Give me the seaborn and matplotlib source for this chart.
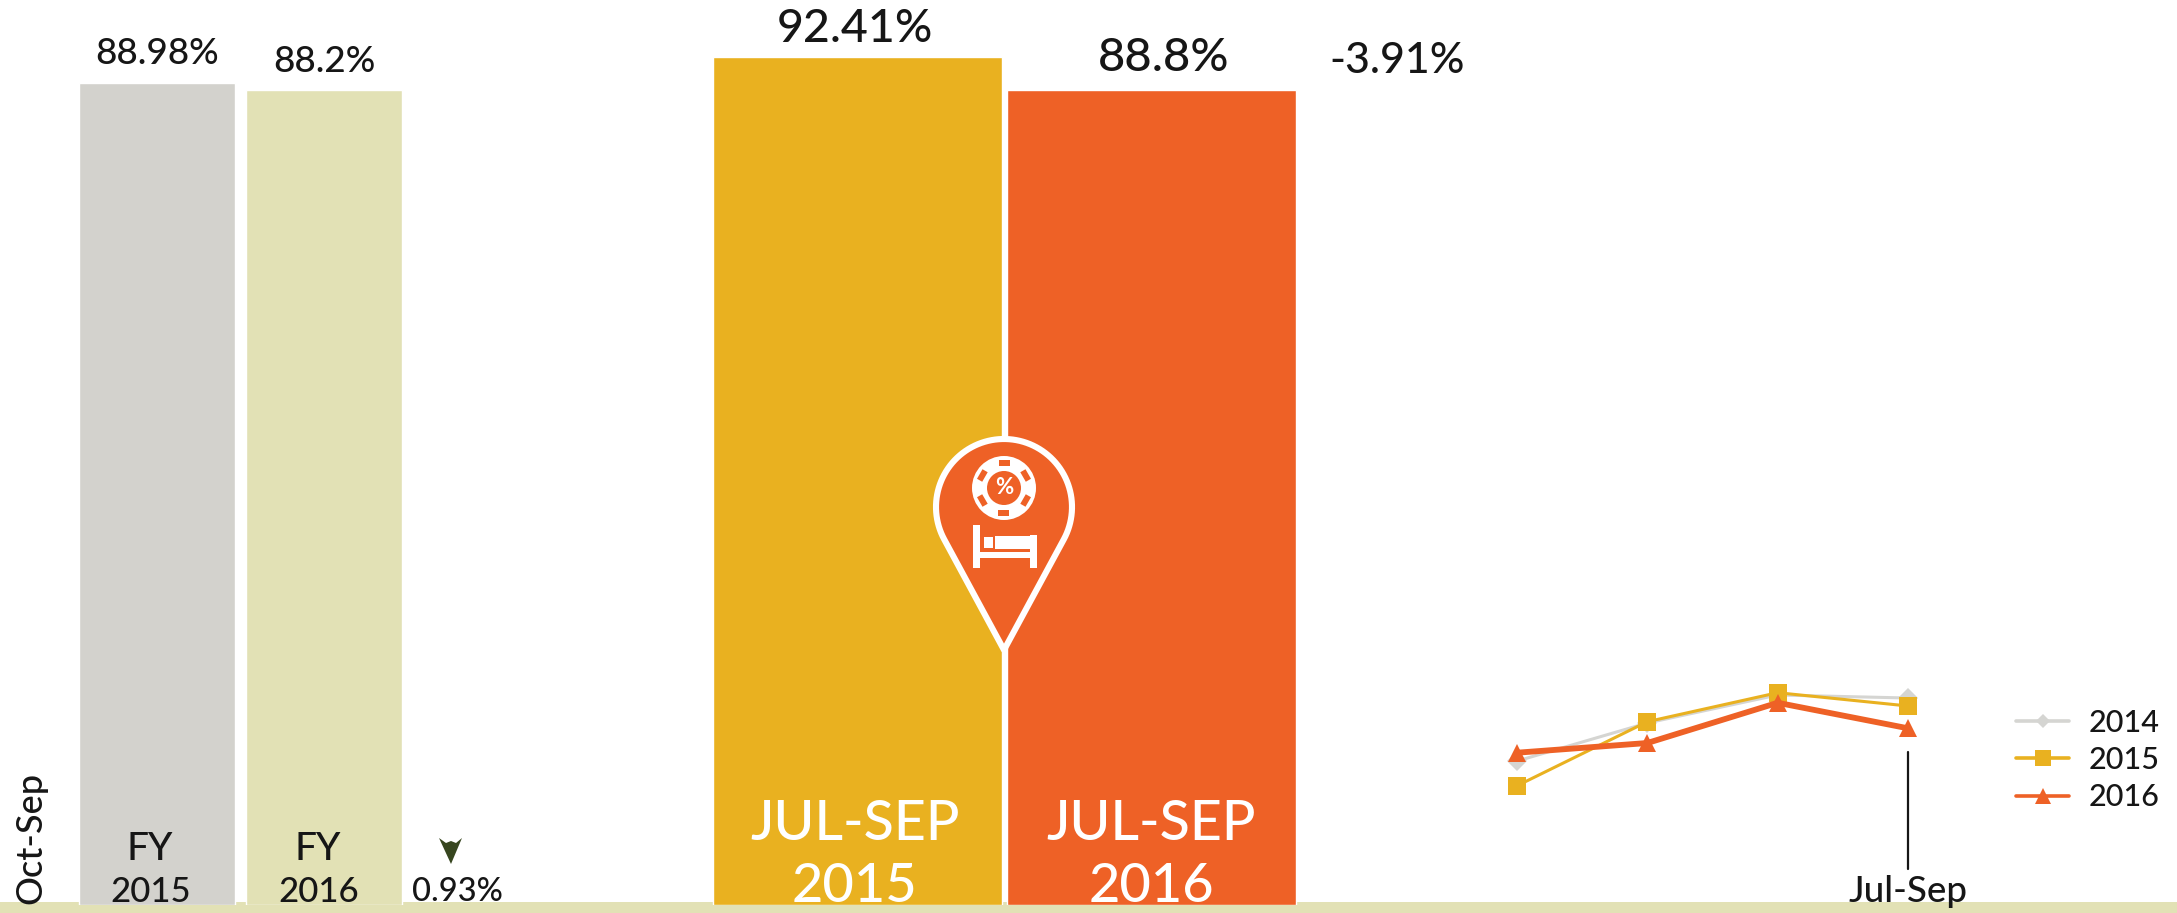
import numpy as np
import pandas as pd
import matplotlib
matplotlib.use("Agg")
import matplotlib.pyplot as plt
from matplotlib.patches import Circle, Polygon, Rectangle
import seaborn as sns

fy_labels = ["FY 2015", "FY 2016"]
fy_values = [88.98, 88.2]
fy_text = ["88.98%", "88.2%"]
q_labels = ["JUL-SEP 2015", "JUL-SEP 2016"]
q_values = [92.41, 88.8]
q_text = ["92.41%", "88.8%"]
quarters = ["Oct-Dec", "Jan-Mar", "Apr-Jun", "Jul-Sep"]
rate_2014 = [83.5, 89.66, 94.19, 93.7]
rate_2015 = [79.5, 89.87, 94.56, 92.41]
rate_2016 = [84.85, 86.42, 92.93, 88.8]

GRAY, PALE, GOLD, ORANGE = "#D3D2CD", "#E2E1B5", "#E9B120", "#EE6126"
INK = "#161616"
W, H = 2177, 913

sns.set_theme(style="white")
plt.rcParams["font.family"] = ["Lato", "DejaVu Sans"]
plt.rcParams["font.weight"] = "medium"
fig = plt.figure(figsize=(W / 100, H / 100), dpi=100, facecolor="white")


def axes_px(x0, y0, x1, y1, z):
    a = fig.add_axes([x0 / W, 1 - y1 / H, (x1 - x0) / W, (y1 - y0) / H], zorder=z)
    a.patch.set_alpha(0)
    return a


# background strip
bg = axes_px(0, 0, W, H, 0)
bg.set_xlim(0, W); bg.set_ylim(H, 0); bg.axis("off")
bg.add_patch(Rectangle((0, 902), W, 11, color=PALE, lw=0))

# FY bars
axf = axes_px(73.5, 27.2, 407.5, 905, 1)
sns.barplot(x=fy_labels, y=fy_values, hue=fy_labels, palette=[GRAY, PALE], saturation=1,
            width=0.94, legend=False, ax=axf)
axf.set_ylim(0, 95); axf.set_xlim(-0.5, 1.5); axf.axis("off")
for i, (v, t) in enumerate(zip(fy_values, fy_text)):
    axf.annotate(t, (i, v), xytext=(0, 9), textcoords="offset points", ha="center",
                 va="bottom", fontsize=26.5, color=INK, annotation_clip=False)

# quarter bars
axq = axes_px(710.5, 33.4, 1298.5, 905, 1)
sns.barplot(x=q_labels, y=q_values, hue=q_labels, palette=[GOLD, ORANGE], saturation=1,
            width=0.982, legend=False, ax=axq)
axq.set_ylim(0, 95); axq.set_xlim(-0.5, 1.5); axq.axis("off")
for i, (v, t, dx) in enumerate(zip(q_values, q_text, [-2, 9])):
    axq.annotate(t, (i, v), xytext=(dx, 5 + 3 * i), textcoords="offset points", ha="center",
                 va="bottom", fontsize=33.5 if i == 0 else 34, color=INK, annotation_clip=False)

# line chart
axl = axes_px(1517, 683.8, 1908, 795.05, 1)
df = pd.DataFrame({"quarter": quarters * 3,
                   "rate": rate_2014 + rate_2015 + rate_2016,
                   "year": ["2014"] * 4 + ["2015"] * 4 + ["2016"] * 4})
sns.lineplot(data=df, x="quarter", y="rate", hue="year", style="year", sort=False,
             palette=["#D5D5D2", GOLD, ORANGE], markers=["D", "s", "^"], dashes=False,
             size="year", sizes=[2.2, 2.2, 4.2], markersize=13, markeredgewidth=0,
             ax=axl, clip_on=False)
axl.lines[0].set_markersize(10)
axl.set_ylim(78, 96); axl.set_xlim(0, 3); axl.axis("off")
handles, labels = axl.get_legend_handles_labels()
axl.legend().remove()
leg = fig.legend(handles, labels, loc="upper left", frameon=False, fontsize=22,
                 bbox_to_anchor=(2016 / W, 1 - 709 / H), handlelength=1.75, handletextpad=0.62,
                 labelspacing=0.3, borderpad=0, borderaxespad=0, labelcolor=INK)
for h, ms in zip(leg.legend_handles, [7, 11, 11]):
    h.set_markersize(ms)
    h.set_linewidth(2.6)

# annotations and icon in pixel coordinates
ov = axes_px(0, 0, W, H, 3)
ov.set_xlim(0, W); ov.set_ylim(H, 0); ov.axis("off")


def label(x, y, s, size, color=INK, **kw):
    ov.text(x, y, s, fontsize=size, color=color, ha="center", va="center", **kw)


label(150, 849, "FY", 28)
label(151, 892, "2015", 25)
label(318, 849, "FY", 28)
label(319, 892, "2016", 25)
label(457, 892, "0.93%", 23.5)
label(31, 838, "Oct-Sep", 26, rotation=90)
label(855, 825, "JUL-SEP", 40, color="white")
label(855, 887, "2015", 39, color="white")
label(1151, 825, "JUL-SEP", 40, color="white")
label(1151, 887, "2016", 39, color="white")
label(1397, 61, "-3.91%", 31)
label(1908, 892, "Jul-Sep", 26.5)
ov.plot([1908, 1908], [752, 869], color=INK, lw=1.6)
ov.add_patch(Polygon([(439, 838), (446, 843), (451, 841), (456, 843), (462, 838), (451, 864)],
                     closed=True, color="#37461F", lw=0))

# map pin
cx, cy, R, tip = 1004, 507, 68, 650
a = np.arccos(R / (tip - cy))
th = np.linspace(a, 2 * np.pi - a, 80)
pin = np.column_stack([cx + R * np.sin(th), cy + R * np.cos(th)])
pin = np.vstack([[cx, tip], pin])
ov.add_patch(Polygon(pin, closed=True, fc=ORANGE, ec="white", lw=4.4, joinstyle="round"))
ccy = 488
ov.add_patch(Circle((cx, ccy), 32, fc="white", lw=0))
for ang in np.deg2rad(np.arange(0, 360, 60)):
    x, y = cx + 25 * np.sin(ang), ccy - 25 * np.cos(ang)
    t = matplotlib.transforms.Affine2D().rotate_around(x, y, ang) + ov.transData
    ov.add_patch(Rectangle((x - 5.5, y - 3), 11, 6, fc=ORANGE, lw=0, transform=t))
ov.add_patch(Circle((cx, ccy), 17, fc=ORANGE, lw=0))
label(cx, ccy, "%", 16, color="white", fontweight="bold")
for x, y, w, h in [(973, 525, 7, 43), (1030, 535, 7, 33), (973, 552, 64, 6),
                   (995, 536, 35, 13), (984, 537, 9, 11)]:
    ov.add_patch(Rectangle((x, y), w, h, fc="white", lw=0))

fig.savefig("out.png", dpi=100, facecolor="white")
